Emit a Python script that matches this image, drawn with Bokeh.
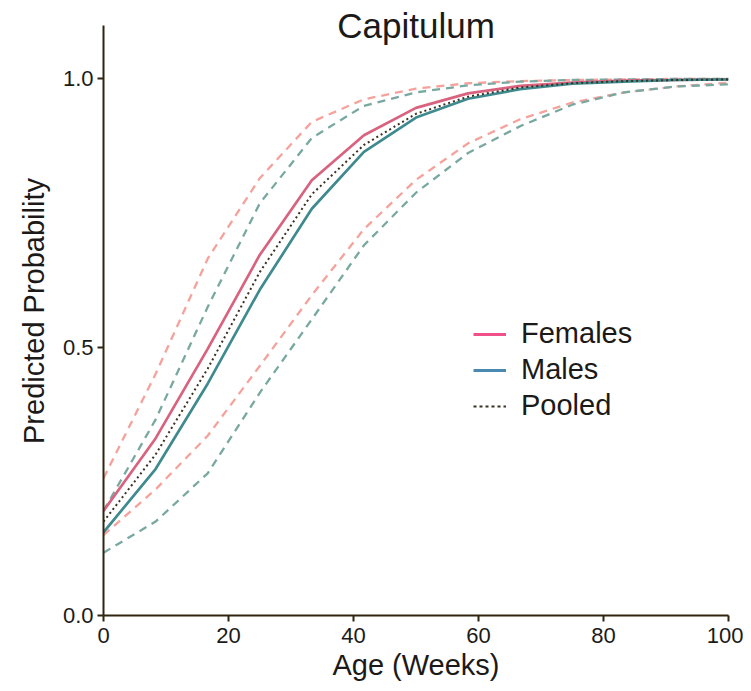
from bokeh.plotting import figure
from bokeh.models import Range1d, FixedTicker, NumeralTickFormatter, Legend, LegendItem, Label
from bokeh.embed import file_html
from bokeh.resources import INLINE

age = [0, 8.33, 16.67, 25, 33.33, 41.67, 50, 58.33, 66.67, 75, 83.33, 91.67, 100]
females = [0.195, 0.330, 0.497, 0.672, 0.811, 0.895, 0.946, 0.973, 0.987, 0.993, 0.997, 0.998, 0.999]
males = [0.155, 0.273, 0.432, 0.607, 0.758, 0.864, 0.928, 0.963, 0.981, 0.991, 0.995, 0.998, 0.999]
pooled = [0.175, 0.300, 0.460, 0.640, 0.785, 0.877, 0.935, 0.967, 0.984, 0.992, 0.996, 0.998, 0.999]
females_upper = [0.256, 0.450, 0.665, 0.815, 0.920, 0.962, 0.982, 0.992, 0.996, 0.998, 0.999, 1.0, 1.0]
females_lower = [0.150, 0.235, 0.335, 0.465, 0.597, 0.720, 0.812, 0.880, 0.925, 0.956, 0.975, 0.986, 0.993]
males_upper = [0.195, 0.365, 0.575, 0.768, 0.890, 0.950, 0.975, 0.988, 0.995, 0.998, 0.999, 1.0, 1.0]
males_lower = [0.117, 0.175, 0.265, 0.415, 0.552, 0.690, 0.788, 0.862, 0.912, 0.952, 0.975, 0.986, 0.990]

x_ticks = [0, 20, 40, 60, 80, 100]
y_ticks = [0.0, 0.5, 1.0]

FONT = "Liberation Sans"
AX = "#2e2410"
TXT = "#1c1a18"

p = figure(width=743, height=683, output_backend="svg", toolbar_location=None,
           x_range=Range1d(0, 100), y_range=Range1d(0, 1.135),
           min_border_left=103, min_border_right=15, min_border_top=6, min_border_bottom=67)
p.outline_line_color = None
p.xgrid.grid_line_color = None
p.ygrid.grid_line_color = None
p.background_fill_color = "white"

c_f = "#d9627e"
c_m = "#3e8a8e"
c_fd = "#f6a29c"
c_md = "#78a8a0"

p.line(age, females_upper, line_color=c_fd, line_width=2.3, line_dash="8 6")
p.line(age, males_upper, line_color=c_md, line_width=2.3, line_dash="8 6")
p.line(age, females_lower, line_color=c_fd, line_width=2.3, line_dash="8 6")
p.line(age, males_lower, line_color=c_md, line_width=2.3, line_dash="8 6")
rf = p.line(age, females, line_color=c_f, line_width=2.7)
rm = p.line(age, males, line_color=c_m, line_width=2.7)
rp = p.line(age, pooled, line_color="#3a3020", line_width=2, line_dash="2 3")

for ax in (p.xaxis[0], p.yaxis[0]):
    ax.axis_line_color = AX
    ax.axis_line_width = 2
    ax.major_tick_line_color = AX
    ax.major_tick_line_width = 2
    ax.major_tick_in = 0
    ax.major_tick_out = 6
    ax.minor_tick_line_color = None
    ax.major_label_text_font = FONT
    ax.major_label_text_font_size = "22px"
    ax.major_label_text_color = TXT
    ax.axis_label_text_font = FONT
    ax.axis_label_text_font_size = "29px"
    ax.axis_label_text_font_style = "normal"
    ax.axis_label_text_color = TXT

p.xaxis[0].ticker = FixedTicker(ticks=x_ticks)
p.yaxis[0].ticker = FixedTicker(ticks=y_ticks)
p.yaxis[0].formatter = NumeralTickFormatter(format="0.0")
p.yaxis[0].bounds = (0, 1.1)
p.xaxis[0].axis_label = "Age (Weeks)"
p.yaxis[0].axis_label = "Predicted Probability"
p.xaxis[0].major_label_standoff = 6
p.yaxis[0].major_label_standoff = 4
p.xaxis[0].axis_label_standoff = 3
p.yaxis[0].axis_label_standoff = 10

title = Label(x=50, y=1.1, text="Capitulum", text_align="center", text_baseline="middle",
              text_font=FONT, text_font_size="35px", text_color=TXT)
p.add_layout(title)

# legend swatch glyphs (not drawn in plot)
lf = p.line(age, females, line_color="#f0508a", line_width=3, visible=False)
lm = p.line(age, males, line_color="#4a8ab0", line_width=3, visible=False)
lp = p.line(age, pooled, line_color="#3a3020", line_width=2, line_dash="3 3", visible=False)
legend = Legend(items=[LegendItem(label="Females", renderers=[lf]),
                       LegendItem(label="Males", renderers=[lm]),
                       LegendItem(label="Pooled", renderers=[lp])],
                location=(370, 193), padding=0, margin=0, spacing=3,
                glyph_width=33, glyph_height=20, label_standoff=15,
                label_text_font=FONT, label_text_font_size="29px", label_text_color=TXT,
                background_fill_alpha=0, border_line_color=None)
p.add_layout(legend)

open("out.html", "w").write(file_html(p, INLINE))
